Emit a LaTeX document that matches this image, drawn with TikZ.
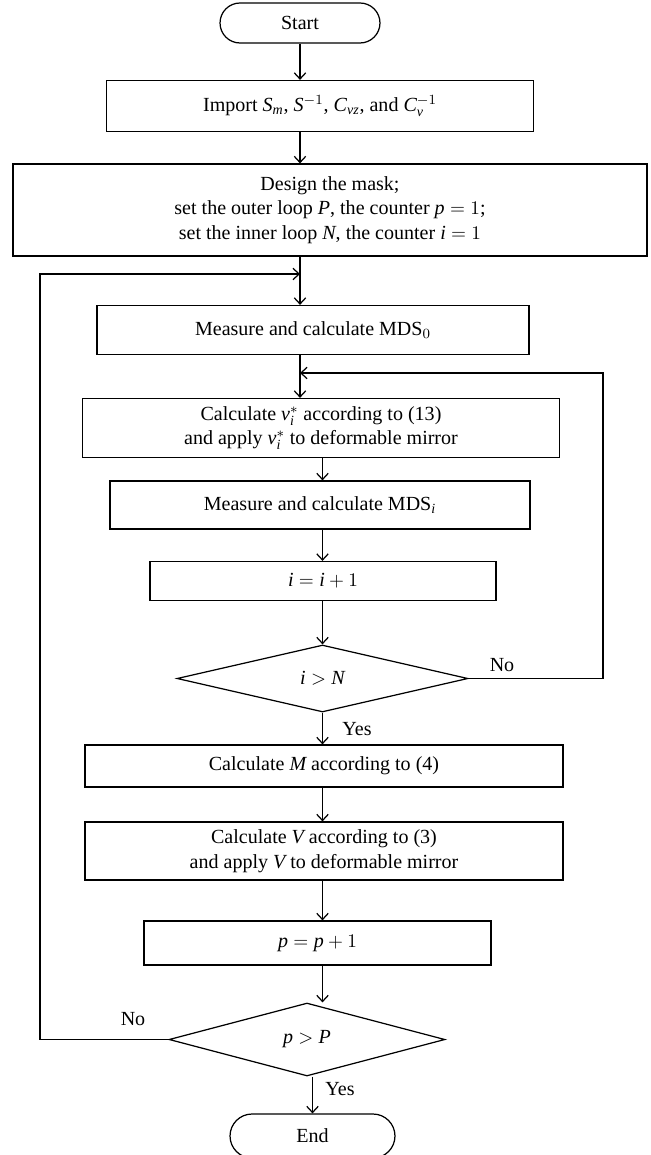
\documentclass[tikz,border=0pt]{standalone}
\usepackage{fontspec}
\setmainfont{Liberation Serif}
\usetikzlibrary{shapes.geometric,shapes.misc,arrows.meta}
\newcommand{\itv}[1]{\mathit{#1}}

\begin{document}
\begin{tikzpicture}[x=0.02cm,y=-0.02cm,
        font=\fontsize{11.4}{14}\selectfont,
        line width=0.7pt,
        >={Straight Barb[length=3.5pt,width=6.5pt]},
        box/.style={draw,rectangle,inner sep=0pt,align=center},
        decision/.style={draw,diamond,inner sep=0pt},
        terminal/.style={draw,rounded rectangle,inner sep=0pt,minimum width=3.2cm,minimum height=0.8cm}]
        \useasboundingbox (0,0) rectangle (650,1155);

        \node[terminal] (start) at (300,23) {Start};
        \node[box,minimum width=8.54cm,minimum height=1.02cm] (import) at (320,106) {Import $\itv{S}_{\itv{m}}$, $\itv{S}^{-1}$, $\itv{C}_{\itv{vz}}$, and $\itv{C}_{\itv{v}}^{-1}$};
        \node[box,minimum width=12.68cm,minimum height=1.84cm] (design) at (330,210) {Design the mask;\\ set the outer loop $\itv{P}$, the counter $\itv{p}=1$;\\ set the inner loop $\itv{N}$, the counter $\itv{i}=1$};
        \node[box,minimum width=8.64cm,minimum height=0.98cm] (mds0) at (313,330) {Measure and calculate MDS$_0$};
        \node[box,minimum width=9.54cm,minimum height=1.18cm] (calcv) at (321,428) {Calculate $\itv{v}_{\itv{i}}^{*}$ according to (13)\\ and apply $\itv{v}_{\itv{i}}^{*}$ to deformable mirror};
        \node[box,minimum width=8.4cm,minimum height=0.96cm] (mdsi) at (320,505) {Measure and calculate MDS$_{\itv{i}}$};
        \node[box,minimum width=6.92cm,minimum height=0.78cm] (inci) at (323,581) {$\itv{i}=\itv{i}+1$};
        \node[decision,minimum width=5.82cm,minimum height=1.34cm] (dec1) at (322.5,678.5) {$\itv{i}>\itv{N}$};
        \node[box,minimum width=9.56cm,minimum height=0.84cm] (calcm) at (324,766) {Calculate $\itv{M}$ according to (4)};
        \node[box,minimum width=9.56cm,minimum height=1.16cm] (calcV) at (324,851) {Calculate $\itv{V}$ according to (3)\\ and apply $\itv{V}$ to deformable mirror};
        \node[box,minimum width=6.94cm,minimum height=0.88cm] (incp) at (317.5,943) {$\itv{p}=\itv{p}+1$};
        \node[decision,minimum width=5.52cm,minimum height=1.46cm] (dec2) at (307,1039.5) {$\itv{p}>\itv{P}$};
        \node[terminal,minimum width=3.3cm,minimum height=0.88cm] (end) at (312.5,1136) {End};

        \node (no1) at (502,665) {No};
        \node (yes1) at (357,729) {Yes};
        \node (no2) at (133,1019) {No};
        \node (yes2) at (340,1089) {Yes};

        \coordinate (outer) at (300,274);
        \coordinate (inner) at (300,373);

        \draw[->] (start.south) -- (start.south |- import.north);
        \draw[->] (start |- import.south) -- (start |- design.north);
        \draw[->] (start |- design.south) -- (start |- mds0.north);
        \draw[->] (start |- mds0.south) -- (start |- calcv.north);
        \draw[->] (calcv.south -| dec1) -- (mdsi.north -| dec1);
        \draw[->] (mdsi.south -| dec1) -- (inci.north -| dec1);
        \draw[->] (inci.south -| dec1) -- (dec1.north);
        \draw[->] (dec1.south) -- (calcm.north -| dec1);
        \draw[->] (calcm.south -| dec1) -- (calcV.north -| dec1);
        \draw[->] (calcV.south -| dec1) -- (incp.north -| dec1);
        \draw[->] (incp.south -| dec1) -- (dec2.north -| dec1);
        \draw[->] (end.north |- dec2.south) -- (end.north);

        \draw[->] (dec1.east) -| (603,373) -- (inner);
        \draw[->] (dec2.west) -| (40,274) -- (outer);

    \end{tikzpicture}
\end{document}
